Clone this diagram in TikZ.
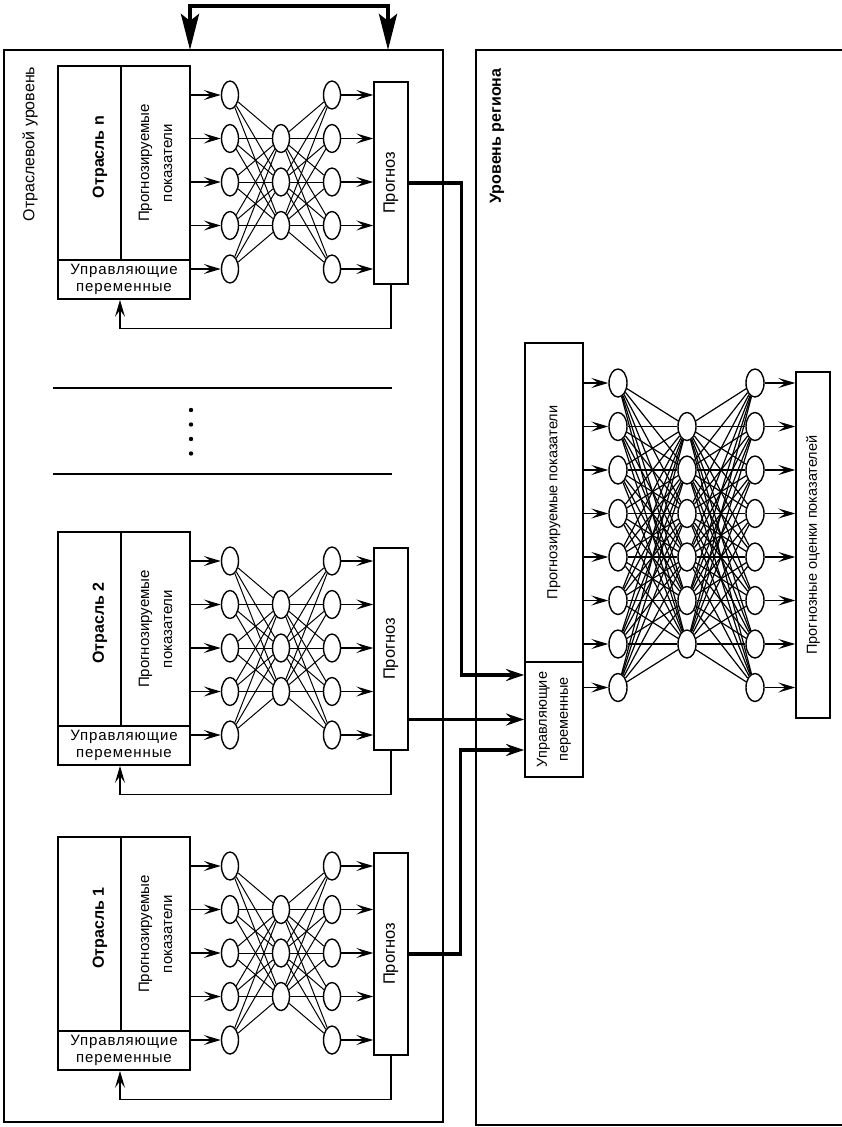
\documentclass[tikz,border=0pt]{standalone}
\usepackage{fontspec}
\setmainfont{Liberation Sans}
\usetikzlibrary{arrows.meta,positioning,calc,shapes.geometric}
\tikzset{
  frame/.style={draw, line width=1.2pt},
  cell/.style={rectangle, draw, line width=1.8pt, inner sep=0pt, align=center,
               font=\fontsize{15}{23}\selectfont},
  vcell/.style={cell, rotate=90},
  neuron/.style={ellipse, draw, line width=1.4pt, inner sep=0pt,
                 minimum width=17pt, minimum height=28pt},
  syn/.style={line width=1pt},
  feed/.style={-{Stealth[length=17pt, width=10pt, inset=7pt]}, line width=1.4pt},
  bus/.style={-{Stealth[length=18pt, width=12pt, inset=6pt]}, line width=3.4pt},
  link/.style={{Stealth[length=36pt, width=18pt, inset=7pt]}-{Stealth[length=36pt, width=18pt, inset=7pt]},
               line width=4.5pt},
  level/.style={rotate=90, font=\fontsize{16}{18}\selectfont},
  spaced/.style={font=\fontsize{15}{17}\selectfont\addfontfeature{LetterSpace=6}},
}
\begin{document}
\begin{tikzpicture}[x=1pt, y=-1pt]
  \useasboundingbox (0,0) rectangle (842,1127);
  % two levels
  \draw[frame] (4,50) rectangle (443,1122);
  \draw[frame] (842,50) -- (476,50) -- (476,1125) -- (842,1125);
  \node[level] (lvlBranch) at (30,144) {Отраслевой уровень};
  \node[level, font=\fontsize{16}{18}\selectfont\bfseries] (lvlRegion) at (497,136) {Уровень региона};
  \coordinate (topL) at (190,50);
  \coordinate (topR) at (388,50);
  \draw[link] (topL) -- ++(0,-44) -| (topR);

  % branch networks
  \foreach \b/\c/\title in {n/182/{Отрасль n}, 2/648/{Отрасль 2}, 1/953/{Отрасль 1}} {
    \node[vcell, minimum width=194pt, minimum height=63pt] (sec\b) at (89.5,{\c-19}) {};
    \node[level, font=\fontsize{16}{19}\selectfont\bfseries] (ttl\b) at (100,{\c-25}) {\title};
    \node[vcell, minimum width=194pt, minimum height=69pt] (ind\b) at (155.5,{\c-19}) {Прогнозируемые\\показатели};
    \node[cell, spaced, minimum width=132pt, minimum height=39pt] (ctl\b) at (124,{\c+97.5}) {Управляющие\\переменные};
    \node[vcell, minimum width=202pt, minimum height=34pt, line width=1.4pt,
          font=\fontsize{16.5}{19}\selectfont] (prg\b) at (391,{\c+1}) {Прогноз};
    \foreach \k in {1,...,5} {
      \node[neuron] (in\b-\k) at (230,{\c+(\k-3)*43.5}) {};
      \node[neuron] (out\b-\k) at (332,{\c+(\k-3)*43.5}) {};
    }
    \foreach \k in {2,3,4}
      \node[neuron] (hid\b-\k) at (281,{\c+(\k-3)*43.5}) {};
    \foreach \i in {1,...,5}
      \foreach \j in {2,3,4} {
        \draw[syn] (in\b-\i) -- (hid\b-\j);
        \draw[syn] (hid\b-\j) -- (out\b-\i);
      }
    \foreach \k in {1,...,4}
      \draw[feed] (ind\b.south |- in\b-\k) -- (in\b-\k);
    \draw[feed] (ctl\b.east |- in\b-5) -- (in\b-5);
    \foreach \k in {1,...,5}
      \draw[feed] (out\b-\k) -- (prg\b.north |- out\b-\k);
    \draw[feed] (prg\b.west) -- ++(0,44) -| ([xshift=-4pt]ctl\b.south);
  }
  \draw[line width=2pt] (53,388) -- (392,388);
  \draw[line width=2pt] (53,474) -- (392,474);
  \foreach \y in {410,424.5,439,453.5}
    \fill (191,\y) circle (2.2pt);

  % region network
  \node[vcell, minimum width=319pt, minimum height=58pt,
        font=\fontsize{14.5}{17}\selectfont] (rind) at (554,502.5) {Прогнозируемые показатели};
  \node[vcell, minimum width=115pt, minimum height=58pt,
        font=\fontsize{14.5}{21}\selectfont] (rctl) at (554,719.5) {Управляющие\\переменные};
  \node[vcell, minimum width=346pt, minimum height=34pt, line width=1.4pt,
        font=\fontsize{14.5}{17}\selectfont] (rest) at (813,545) {Прогнозные оценки показателей};
  \foreach \k in {1,...,8} {
    \node[neuron, minimum width=18pt] (rin-\k) at (618,{383+(\k-1)*43.5}) {};
    \node[neuron, minimum width=18pt] (rout-\k) at (755,{383+(\k-1)*43.5}) {};
  }
  \foreach \k in {2,...,7}
    \node[neuron, minimum width=18pt] (rhid-\k) at (687,{383+(\k-1)*43.5}) {};
  \foreach \i in {1,...,8}
    \foreach \j in {2,...,7} {
      \draw[syn, line width=1.2pt] (rin-\i) -- (rhid-\j);
      \draw[syn, line width=1.2pt] (rhid-\j) -- (rout-\i);
    }
  \foreach \k in {1,...,7}
    \draw[feed] (rind.south |- rin-\k) -- (rin-\k);
  \draw[feed] (rctl.south |- rin-8) -- (rin-8);
  \foreach \k in {1,...,8}
    \draw[feed] (rout-\k) -- (rest.north |- rout-\k);

  % forecasts to the region level
  \draw[bus] (prgn.south) -- ++(53,0) |- ([yshift=44.5pt]rctl.north);
  \draw[bus] (prg2.south |- rctl.north) -- (rctl.north);
  \draw[bus] (prg1.south) -- ++(52,0) |- ([yshift=-30.5pt]rctl.north);
\end{tikzpicture}
\end{document}
